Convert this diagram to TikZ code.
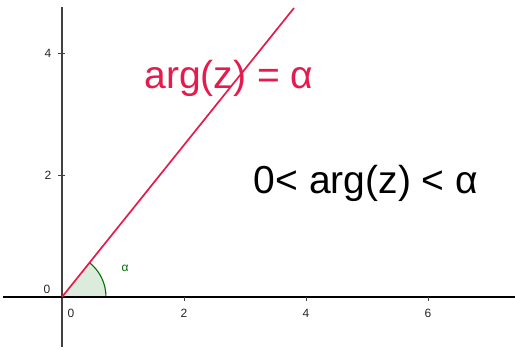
\documentclass[tikz,border=0pt]{standalone}
\usepackage{fontspec}
\setmainfont{Liberation Sans}
\definecolor{argred}{RGB}{228,28,78}
\definecolor{anggreen}{RGB}{0,110,0}
\definecolor{angfill}{RGB}{220,236,220}
\begin{document}
\begin{tikzpicture}[x=1pt,y=1pt,
  axis/.style={draw=black!75,line width=1.3pt},
  xaxis/.style={draw=black,line width=1.8pt},
  tick/.style={draw=black!75,line width=0.9pt},
  ticklabel/.style={font=\fontsize{12}{13}\selectfont,text=black!85,inner sep=0pt},
  biglabel/.style={font=\fontsize{39}{42}\selectfont,inner sep=0pt}]
\useasboundingbox (-62,-53) rectangle (453,297);
\coordinate (O) at (0,0);
\coordinate (ytop) at (0,290);
\coordinate (ybot) at (0,-50);
\coordinate (xl) at (-59,0);
\coordinate (xr) at (453,0);
\coordinate (redend) at (232,289);
% angle
\fill[angfill] (O) -- (44,0) arc[start angle=0,end angle=51.2,radius=44] -- cycle;
\draw[anggreen,line width=1.1pt] (44,0) arc[start angle=0,end angle=51.2,radius=44];
% axes
\draw[axis] (ybot) -- (ytop);
\draw[xaxis] (xl) -- (xr);
% ticks
\foreach \i/\v in {1/2,2/4,3/6} {
  \draw[tick] (\i*122,0) -- (\i*122,-4);
  \node[ticklabel] (xt\v) at (\i*122,-16) {\v};
}
\foreach \i/\v in {1/2,2/4} {
  \draw[tick] (-4,\i*122) -- (3,\i*122);
  \node[ticklabel] (yt\v) at (-14,\i*122) {\v};
}
\node[ticklabel] (x0) at (9,-16) {0};
\node[ticklabel] (y0) at (-15,8) {0};
% red line
\draw[argred,line width=1.7pt] (O) -- (redend);
\node[ticklabel,text=anggreen] (alpha) at (63,29) {α};
\node[biglabel,text=argred] (eq) at (167,219) {arg(z) = α};
\node[biglabel,text=black] (ineq) at (304,114) {0< arg(z) < α};
\end{tikzpicture}
\end{document}
